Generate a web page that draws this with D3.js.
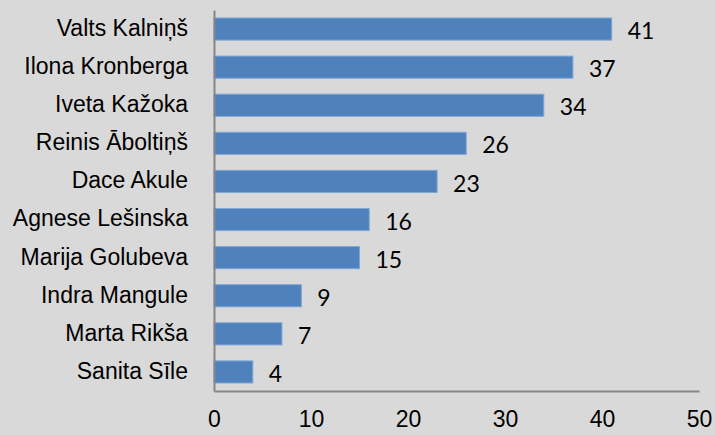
<!DOCTYPE html>
<html>
<head>
<meta charset="utf-8">
<script src="https://cdn.jsdelivr.net/npm/d3@7"></script>
<style>
  html, body { margin: 0; padding: 0; background: #d9d9d9; }
  svg { display: block; font-family: Lato, "Open Sans", sans-serif; }
</style>
</head>
<body>
<div id="chart"></div>
<script>
var names = ['Valts Kalniņš', 'Ilona Kronberga', 'Iveta Kažoka', 'Reinis Āboltiņš', 'Dace Akule',
             'Agnese Lešinska', 'Marija Golubeva', 'Indra Mangule', 'Marta Rikša', 'Sanita Sīle'];
var counts = [41, 37, 34, 26, 23, 16, 15, 9, 7, 4];
var xTicks = [0, 10, 20, 30, 40, 50];

var margin = {top: 10, right: 16, bottom: 44, left: 214};
var width = 715 - margin.left - margin.right;
var height = 435 - margin.top - margin.bottom;
var fontSize = '23px';

var svg = d3.select('#chart')
    .append('svg')
        .attr('width', 715)
        .attr('height', 435)
    .append('g')
        .attr('transform', 'translate(' + margin.left + ',' + margin.top + ')');

var x = d3.scaleLinear().domain([0, 50]).range([0, width]);
var y = d3.scaleBand().domain(names).range([0, height]).paddingInner(0.42).paddingOuter(0.21);

var data = names.map((n, i) => ({name: n, value: counts[i]}));

svg.selectAll('.bar')
    .data(data)
    .enter()
    .append('rect')
    .attr('class', 'bar')
    .attr('x', 0)
    .attr('y', d => y(d.name))
    .attr('width', d => x(d.value))
    .attr('height', y.bandwidth())
    .style('fill', '#4f81bd')
    .style('stroke', '#7ea6d6')
    .style('stroke-width', 1);

svg.selectAll('.val')
    .data(data)
    .enter()
    .append('text')
    .attr('class', 'val')
    .attr('x', d => x(d.value) + 16)
    .attr('y', d => y(d.name) + y.bandwidth() / 2 + 2)
    .attr('dy', '0.35em')
    .style('font-size', fontSize)
    .style('fill', '#000')
    .text(d => d.value);

// category axis
var yAxis = d3.axisLeft(y).tickSize(0).tickPadding(26);
var gy = svg.append('g').call(yAxis);
gy.select('.domain').attr('stroke', '#868686').attr('stroke-width', 2);
gy.selectAll('text').style('font-size', fontSize).style('fill', '#000').attr('dy', '0.3em');

// value axis
var xAxis = d3.axisBottom(x).tickValues(xTicks).tickSize(0);
var gx = svg.append('g').attr('transform', 'translate(0,' + height + ')').call(xAxis);
gx.select('.domain').attr('stroke', '#868686').attr('stroke-width', 2);
gx.selectAll('text').style('font-size', fontSize).style('fill', '#000').attr('y', 36).attr('dy', 0);
</script>
</body>
</html>
